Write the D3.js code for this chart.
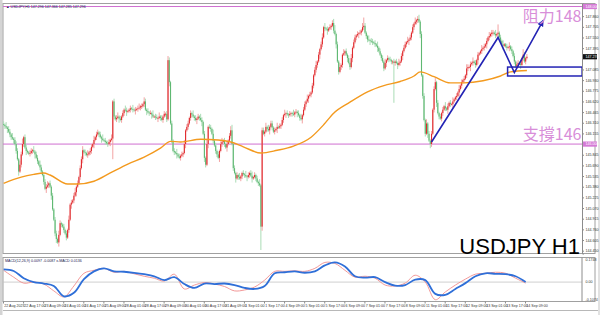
<!DOCTYPE html>
<html>
<head>
<meta charset="utf-8">
<script src="https://cdnjs.cloudflare.com/ajax/libs/d3/7.8.5/d3.min.js"></script>
<style>
  html, body { margin: 0; padding: 0; background: #fff; }
  svg { display: block; font-family: "Liberation Sans", Arial, sans-serif; }
</style>
</head>
<body>
<svg id="chart" width="600" height="315"></svg>
<script>
// USDJPY H1 — candles, MA, MACD, hand-drawn levels
const timeLabels = ["22 Aug 2023", "22 Aug 17:00", "23 Aug 09:00", "24 Aug 01:00", "24 Aug 17:00", "25 Aug 09:00",
  "28 Aug 01:00", "28 Aug 17:00", "29 Aug 09:00", "30 Aug 01:00", "30 Aug 17:00", "31 Aug 09:00", "1 Sep 01:00",
  "1 Sep 17:00", "4 Sep 09:00", "5 Sep 01:00", "5 Sep 17:00", "6 Sep 09:00", "7 Sep 01:00", "7 Sep 17:00",
  "8 Sep 09:00", "11 Sep 01:00", "11 Sep 17:00", "12 Sep 09:00", "13 Sep 01:00", "13 Sep 17:00", "14 Sep 09:00"];

// closes, in hundredths of a yen above 144.00
const closes = [
  228,226,224,222,218,214,210,208,206,200, 190,178,160,170,185,200,210,195,190,188,
  186,187,190,191,189,185,180,175,170,166, 160,155,145,135,138,140,143,138,125,105,
  90,70,62,57,68,85,83,80,75,70,           64,75,90,112,115,118,125,130,138,143,
  152,165,178,191,188,187,184,185,188,190, 196,200,206,210,214,217,214,210,208,206,
  205,203,201,200,203,206,208,262,240,236, 238,240,237,235,240,245,250,249,247,248,
  250,252,251,250,249,250,251,252,253,255, 255,258,262,250,248,246,245,245,243,240,
  240,239,238,238,240,238,235,240,244,244, 236,322,290,230,205,190,188,187,185,182,
  180,183,185,187,200,220,225,230,238,245, 243,240,238,235,237,240,238,235,232,215,
  180,170,200,225,224,222,215,205,198,190, 185,180,190,200,203,205,200,195,200,205,
  212,220,200,165,158,150,155,152,150,153, 158,156,155,153,152,155,158,154,150,152,
  155,150,145,143,140,80,220,215,218,225,  222,220,225,230,224,218,220,222,225,224,
  226,228,235,242,244,245,243,242,244,245, 244,243,246,247,245,242,238,236,242,250,
  258,262,266,270,272,275,285,300,308,315, 320,330,338,345,355,370,368,367,365,368,
  370,372,376,365,360,345,320,305,312,315, 330,332,335,330,325,318,312,325,340,348,
  355,358,360,361,362,365,370,372,362,357, 352,351,350,349,348,347,345,343,340,335,
  330,325,320,310,318,322,325,323,322,320, 320,318,320,318,315,318,320,328,335,340,
  345,348,350,352,355,362,370,375,378,380, 382,378,360,300,270,235,215,230,215,205,
  200,215,250,280,290,260,245,240,237,245, 250,255,252,250,255,260,258,258,262,265,
  268,270,275,280,285,290,293,295,300,310, 312,312,316,318,320,318,315,322,330,332,
  335,338,340,342,345,350,355,357,360,362, 362,360,358,360,362,355,350,345,343,345,
  342,340,341,342,338,335,328,320,313,316, 318,317,315,325,330,320,325,327
];
const firstOpen = 229;

// wick lengths per bar, base-36 digits, in units of 0.02 yen
const upperWicks = ("2131221312 2213241221 1221312213 2112231212 1221321121 2131212312 1223121312 2131221213 " +
  "1212213121 2312121321 1213121231 2132121213 1221312121 2321212131 2121312212 1312121321 2131221312 " +
  "1212312121 2341212131 1213121231 2121312213 1312212131 2121312121 1312121312 2131212123 1212313121 " +
  "2123412131 1312121312 2121213621 1312212131 2121312121 1212131212 2131212131 2312121312 1212312121 " +
  "2131212131 1213121213 2121312121 1312121312 2131612131 1213121212 21314212").replace(/ /g, "");
const lowerWicks = ("1213122131 2131212131 1212131212 2121312131 1231312121 2121312131 1213121212 2131212131 " +
  "1212131f21 2131212131 1212131212 2121312131 1213121212 2131212131 1212131212 2121312131 3213121212 " +
  "2131212131 1212131212 2121312131 12121h3121 2131212131 1212131212 2121312131 1213121212 2131212131 " +
  "1212131212 2121312131 1213121212 2131212131 1212131212 2t21312131 1213121212 2131212131 3212131212 " +
  "2121312131 1213121212 2131212131 1212131212 2121312131 1213121212 21312121").replace(/ /g, "");

// moving average (orange), read at these bars
const maBars   = [0, 14, 24, 32, 37, 51, 59, 72, 85, 99, 112, 125, 133, 141, 157, 171, 181, 191, 205, 218, 231,
  245, 255, 263, 276, 290, 303, 316, 327, 332, 343, 356, 367, 382, 396, 404, 417];
const maPrices = [145.43, 145.52, 145.56, 145.58, 145.55, 145.42, 145.42, 145.46, 145.58, 145.71, 145.81, 145.94,
  146.04, 146.03, 146.07, 146.06, 146.03, 145.96, 145.87, 145.91, 145.97, 146.10, 146.28, 146.45, 146.61, 146.76,
  146.85, 146.91, 146.99, 147.05, 146.98, 146.89, 146.89, 146.92, 146.99, 147.05, 147.07];

// MACD, one reading every 8 bars
const macdMain = [0.098, 0.086, 0.030, 0.000, -0.011, -0.030, -0.110, -0.083, 0.023, 0.083, 0.106, 0.083, 0.080,
  0.072, 0.061, 0.045, 0.015, 0.038, -0.015, -0.045, -0.011, -0.015, -0.011, -0.023, -0.045, -0.053, -0.030, 0.068,
  0.076, 0.083, 0.072, 0.083, 0.129, 0.152, 0.121, 0.045, 0.034, 0.038, 0.000, -0.027, -0.023, 0.019, 0.015, -0.091,
  -0.098, -0.053, -0.008, 0.045, 0.068, 0.064, 0.061, 0.045, 0.000];
const macdSignal = [0.091, 0.038, -0.008, 0.000, -0.015, -0.068, -0.114, -0.030, 0.068, 0.091, 0.106, 0.076, 0.083,
  0.064, 0.045, 0.030, 0.008, 0.061, -0.053, -0.023, -0.004, -0.015, -0.034, -0.068, -0.061, -0.038, 0.015, 0.083,
  0.083, 0.087, 0.083, 0.106, 0.152, 0.144, 0.091, 0.038, 0.045, 0.030, -0.023, -0.030, -0.008, 0.053, 0.000, -0.136,
  -0.076, -0.023, 0.023, 0.061, 0.068, 0.076, 0.068, 0.030, -0.008];
const macdAxisLabels = ["0.1748", "0.00", "-0.1074"];

const priceTicks = [147.860, 147.705, 147.550, 147.395, 147.240, 147.085, 146.930, 146.775, 146.620, 146.465,
  146.310, 146.155, 145.845, 145.690, 145.535, 145.380, 145.225, 145.070, 144.915, 144.760, 144.605, 144.450];

const levels = [148, 146];
const levelTexts = ["阻力148", "支撐146"];
const trendBars = [341, 394, 407, 430];
const trendPrices = [146.03, 147.55, 147.04, 147.80];
const zoneBars = [401.6, 461];
const zonePrices = [147.12, 146.99];

// ---------------------------------------------------------------------------
const plot = { left: 3, right: 582, top: 3.5, bottom: 253.5 };
const macdBox = { top: 257.5, bottom: 301.5 };
const svg = d3.select("#chart");

const x  = d3.scaleLinear().domain([-0.5, 460.9]).range([plot.left, plot.right]);
const y  = d3.scaleLinear().domain([144.409, 148.044]).range([plot.bottom, plot.top]);
const ym = d3.scaleLinear().domain([-0.15, 0.19]).range([macdBox.bottom, macdBox.top]);

svg.append("rect").attr("x", 0).attr("y", 0).attr("width", 2.5).attr("height", 315).attr("fill", "#d4d4d4");
svg.append("rect").attr("x", 598).attr("y", 0).attr("width", 2).attr("height", 315).attr("fill", "#e2e2e2");

svg.append("defs").append("clipPath").attr("id", "clip-main")
  .append("rect").attr("x", plot.left).attr("y", plot.top)
  .attr("width", plot.right - plot.left).attr("height", plot.bottom - plot.top);

// frames
svg.append("rect").attr("x", plot.left).attr("y", plot.top)
  .attr("width", 595 - plot.left).attr("height", plot.bottom - plot.top)
  .attr("fill", "none").attr("stroke", "#a0a0a0");
svg.append("rect").attr("x", plot.left).attr("y", macdBox.top)
  .attr("width", 595 - plot.left).attr("height", macdBox.bottom - macdBox.top)
  .attr("fill", "none").attr("stroke", "#a0a0a0");
svg.append("line").attr("x1", plot.left).attr("x2", 598).attr("y1", 310.5).attr("y2", 310.5).attr("stroke", "#b8b8b8");

// candles
const bars = closes.map((c, i) => {
  const open = 144 + (i ? closes[i - 1] : firstOpen) / 100;
  const close = 144 + c / 100;
  return {
    i, open, close,
    hi: Math.max(open, close) + parseInt(upperWicks[i], 36) * 0.02,
    lo: Math.min(open, close) - parseInt(lowerWicks[i], 36) * 0.02
  };
});

const cg = svg.append("g").attr("clip-path", "url(#clip-main)");

// level lines
cg.selectAll(".level").data(levels).join("line")
  .attr("x1", plot.left).attr("x2", plot.right)
  .attr("y1", d => y(d)).attr("y2", d => y(d))
  .attr("stroke", "#cf6fd0").attr("stroke-width", 1);

cg.selectAll(".wick").data(bars).join("line")
  .attr("x1", d => x(d.i)).attr("x2", d => x(d.i))
  .attr("y1", d => y(d.hi)).attr("y2", d => y(d.lo))
  .attr("stroke", d => d.close >= d.open ? "#f3a3a3" : "#aadcb6").attr("stroke-width", 1);

cg.selectAll(".body").data(bars).join("rect")
  .attr("x", d => x(d.i) - 0.55).attr("width", 1.1)
  .attr("y", d => y(Math.max(d.open, d.close)))
  .attr("height", d => Math.max(0.8, Math.abs(y(d.open) - y(d.close))))
  .attr("fill", d => d.close >= d.open ? "#e02a2e" : "#5fb872");

// moving average
cg.append("path")
  .datum(maBars.map((b, k) => [b, maPrices[k]]))
  .attr("fill", "none").attr("stroke", "#f39a1f").attr("stroke-width", 1.4)
  .attr("d", d3.line().x(d => x(d[0])).y(d => y(d[1])).curve(d3.curveMonotoneX));

// annotations
const blue = "#2323b4";
svg.append("defs").append("marker").attr("id", "arrow")
  .attr("markerUnits", "userSpaceOnUse").attr("markerWidth", 8).attr("markerHeight", 8)
  .attr("refX", 6).attr("refY", 4).attr("orient", "auto")
  .append("path").attr("d", "M0,0.8 L7,4 L0,7.2 Z").attr("fill", blue);

svg.append("path")
  .datum(trendBars.map((b, k) => [b, trendPrices[k]]))
  .attr("fill", "none").attr("stroke", blue).attr("stroke-width", 1.6)
  .attr("stroke-linejoin", "miter").attr("marker-end", "url(#arrow)")
  .attr("d", d3.line().x(d => x(d[0])).y(d => y(d[1])));

svg.append("rect")
  .attr("x", x(zoneBars[0])).attr("y", y(zonePrices[0]))
  .attr("width", x(zoneBars[1]) - x(zoneBars[0])).attr("height", y(zonePrices[1]) - y(zonePrices[0]))
  .attr("fill", "none").attr("stroke", blue).attr("stroke-width", 1.5);

svg.selectAll(".level-text").data(levels).join("text")
  .attr("x", plot.right - 0.5).attr("y", d => y(d) + (d === levels[0] ? 15 : -4))
  .attr("text-anchor", "end").attr("fill", "#d88ed9")
  .attr("font-family", "'Noto Sans CJK TC', 'Noto Sans CJK SC', sans-serif")
  .attr("font-size", 16)
  .text((d, k) => levelTexts[k]);

svg.append("text").attr("x", plot.right - 2).attr("y", 254)
  .attr("text-anchor", "end").attr("font-size", 22).attr("fill", "#000")
  .attr("font-family", "'Liberation Sans', Arial, sans-serif")
  .text("USDJPY H1");

svg.append("text").attr("x", 6).attr("y", 7.6).attr("font-size", 3.6).attr("fill", "#202050")
  .text("▲ USDJPY,H1 147.296 147.366 147.285 147.296");

// axis markers: levels and last price
const marks = levels.map(v => ({ v, fill: "#d57ad6" }))
  .concat([{ v: bars[bars.length - 1].close, fill: "#111" }]);

// price axis; a tick label that sits under a marker box is hidden, as on the terminal
const visibleTicks = priceTicks.filter(t => marks.every(m => Math.abs(y(t) - y(m.v)) > 5));
const pAxis = svg.append("g").attr("transform", `translate(${plot.right},0)`)
  .call(d3.axisRight(y).tickValues(visibleTicks).tickFormat(d3.format(".3f")).tickSize(2).tickPadding(1.5));
pAxis.select(".domain").attr("stroke", "#8c8c8c");
pAxis.selectAll(".tick line").attr("stroke", "#8c8c8c");
pAxis.selectAll("text").attr("font-size", 3.6).attr("fill", "#333").attr("font-family", "'Liberation Sans', Arial, sans-serif");

const mg = svg.selectAll(".pmark").data(marks).join("g")
  .attr("transform", d => `translate(${plot.right + 1},${y(d.v)})`);
mg.append("rect").attr("x", 0).attr("y", -2.6).attr("width", 14).attr("height", 5.2).attr("fill", d => d.fill);
mg.append("text").attr("x", 2.5).attr("y", 1.4).attr("font-size", 3.6).attr("fill", "#fff").text(d => d3.format(".3f")(d.v));

// MACD panel
svg.append("line").attr("x1", plot.left).attr("x2", plot.right)
  .attr("y1", ym(0)).attr("y2", ym(0)).attr("stroke", "#c4c4c4").attr("stroke-width", 0.8);

const macdLine = d3.line().x((d, k) => x(Math.min(k * 8, 417))).y(d => ym(d)).curve(d3.curveCatmullRom);
svg.append("path").datum(macdSignal).attr("fill", "none").attr("stroke", "#f08c8c").attr("stroke-width", 0.9).attr("d", macdLine);
svg.append("path").datum(macdMain).attr("fill", "none").attr("stroke", "#2f6fd8").attr("stroke-width", 1.8).attr("d", macdLine);

svg.append("line").attr("x1", plot.right).attr("x2", plot.right)
  .attr("y1", macdBox.top).attr("y2", macdBox.bottom).attr("stroke", "#8c8c8c");
svg.selectAll(".macd-label").data(macdAxisLabels).join("text")
  .attr("x", plot.right + 3.5)
  .attr("y", (d, k) => [macdBox.top + 3.6, ym(0) + 1.3, macdBox.bottom - 1][k])
  .attr("font-size", 3.6).attr("fill", "#333").text(d => d);

svg.append("text").attr("x", 5).attr("y", 262).attr("font-size", 3.6).attr("fill", "#202050")
  .text("MACD(12,26,9) 0.0097 -0.0087 x-MACD 0.0136");

// time axis
const tAxis = svg.append("g").attr("transform", `translate(0,${macdBox.bottom})`)
  .call(d3.axisBottom(x).tickValues(timeLabels.map((t, k) => k * 16 - 0.5))
    .tickFormat((d, k) => timeLabels[k]).tickSize(2).tickPadding(1));
tAxis.select(".domain").remove();
tAxis.selectAll(".tick line").attr("stroke", "#8c8c8c");
tAxis.selectAll("text").attr("font-size", 3.6).attr("fill", "#333").attr("text-anchor", "start")
  .attr("dx", 0.8).attr("font-family", "'Liberation Sans', Arial, sans-serif");
</script>
</body>
</html>
